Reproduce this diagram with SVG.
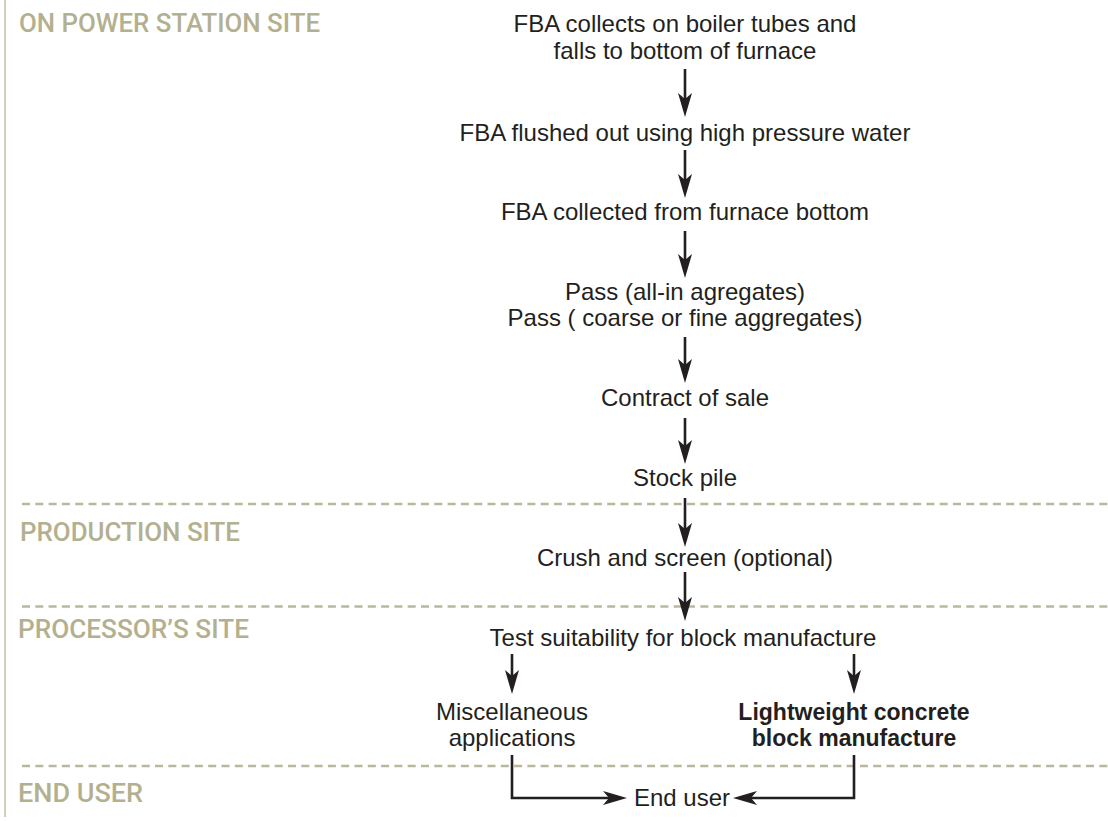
<svg xmlns="http://www.w3.org/2000/svg" width="1108" height="821" viewBox="0 0 1108 821">
<style>
.lbl{font-family:Roboto,"Liberation Sans",Arial,sans-serif;font-weight:500;font-size:26px;fill:#b3b090}
.t{font-family:"Liberation Sans",Arial,sans-serif;font-size:24px;fill:#231f20;text-anchor:middle}
.b{font-weight:bold;font-size:23px}
.dash{stroke:#bab79b;stroke-width:2.5;stroke-dasharray:8 5.3;fill:none}
.c{stroke:#231f20;stroke-width:2.6;fill:none}
</style>
<defs>
<path id="ad" d="M0,0 L-7,-24 L0,-18 L7,-24 Z" fill="#231f20"/>
</defs>
<rect width="1108" height="821" fill="#ffffff"/>
<g id="frame">
<line x1="5" y1="0" x2="5" y2="817" stroke="#c3c0a6" stroke-width="1.5"/>
<line class="dash" x1="22" y1="504" x2="1108" y2="504"/>
<line class="dash" x1="22" y1="606.5" x2="1108" y2="606.5"/>
<line class="dash" x1="22" y1="766" x2="1108" y2="766"/>
</g>
<g id="lanes">
<text class="lbl" x="19" y="32" textLength="301" lengthAdjust="spacingAndGlyphs">ON POWER STATION SITE</text>
<text class="lbl" x="20" y="541" textLength="220" lengthAdjust="spacingAndGlyphs">PRODUCTION SITE</text>
<text class="lbl" x="18" y="638" textLength="231" lengthAdjust="spacingAndGlyphs">PROCESSOR’S SITE</text>
<text class="lbl" x="18" y="802" textLength="125" lengthAdjust="spacingAndGlyphs">END USER</text>
</g>
<g id="n1"><text class="t" x="685" y="32">FBA collects on boiler tubes and</text><text class="t" x="685" y="59">falls to bottom of furnace</text></g>
<g id="n2"><text class="t" x="685" y="141">FBA flushed out using high pressure water</text></g>
<g id="n3"><text class="t" x="685" y="220">FBA collected from furnace bottom</text></g>
<g id="n4"><text class="t" x="685" y="300">Pass (all-in agregates)</text><text class="t" x="685" y="326">Pass ( coarse or fine aggregates)</text></g>
<g id="n5"><text class="t" x="685" y="406">Contract of sale</text></g>
<g id="n6"><text class="t" x="685" y="486">Stock pile</text></g>
<g id="n7"><text class="t" x="685" y="566">Crush and screen (optional)</text></g>
<g id="n8"><text class="t" x="683" y="646">Test suitability for block manufacture</text></g>
<g id="n9"><text class="t" x="512" y="720">Miscellaneous</text><text class="t" x="512" y="746">applications</text></g>
<g id="n10"><text class="t b" x="854" y="720">Lightweight concrete</text><text class="t b" x="854" y="746">block manufacture</text></g>
<g id="n11"><text class="t" x="682" y="806">End user</text></g>
<g id="connectors">
<line class="c" x1="685" y1="69" x2="685" y2="104"/><use href="#ad" x="685" y="117"/>
<line class="c" x1="685" y1="150" x2="685" y2="185"/><use href="#ad" x="685" y="198"/>
<line class="c" x1="685" y1="231" x2="685" y2="265"/><use href="#ad" x="685" y="278"/>
<line class="c" x1="685" y1="337" x2="685" y2="370"/><use href="#ad" x="685" y="383"/>
<line class="c" x1="685" y1="418" x2="685" y2="451"/><use href="#ad" x="685" y="464"/>
<line class="c" x1="685" y1="498" x2="685" y2="534"/><use href="#ad" x="685" y="547"/>
<line class="c" x1="685" y1="572" x2="685" y2="608"/><use href="#ad" x="685" y="621"/>
<line class="c" x1="512" y1="654" x2="512" y2="681"/><use href="#ad" x="512" y="694"/>
<line class="c" x1="854" y1="654" x2="854" y2="681"/><use href="#ad" x="854" y="694"/>
<polyline class="c" points="512,755 512,798 614,798"/>
<use href="#ad" transform="translate(627,798) rotate(-90)"/>
<polyline class="c" points="854,755 854,798 746,798"/>
<use href="#ad" transform="translate(733,798) rotate(90)"/>
</g>
</svg>
